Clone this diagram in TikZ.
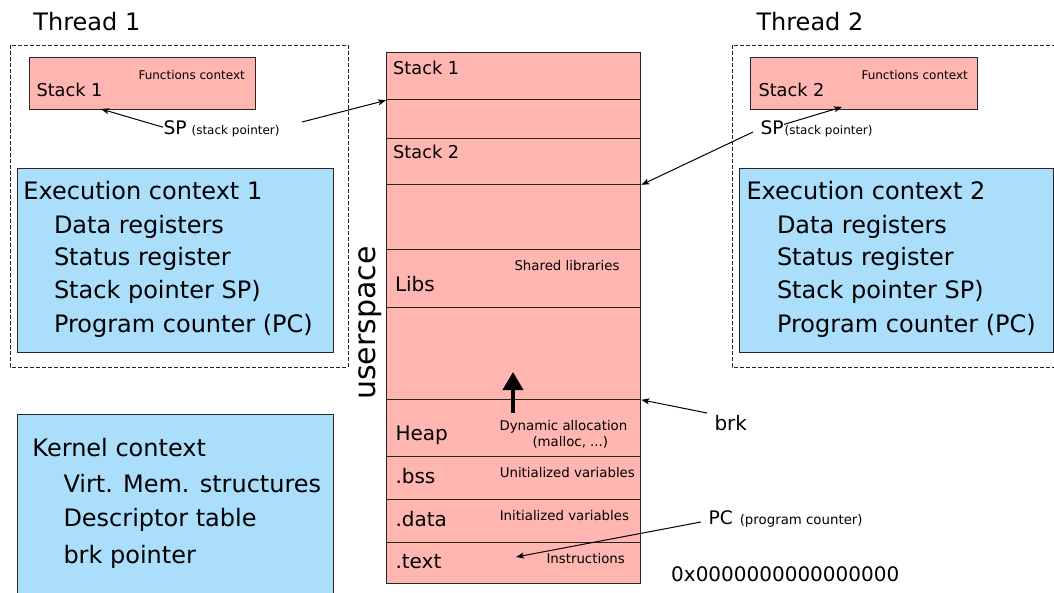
\documentclass[tikz,border=0pt]{standalone}
\usepackage{fontspec}
\setmainfont{DejaVu Sans}
\usepackage{xcolor}
\usetikzlibrary{arrows.meta,positioning}

\definecolor{memred}{RGB}{255,182,177}
\definecolor{ctxblue}{RGB}{170,222,250}

\begin{document}
\begin{tikzpicture}[x=0.75pt,y=-0.75pt,>={Stealth[length=6pt,width=4.5pt,inset=1.5pt]},
    line width=0.75pt,
    every node/.style={inner sep=0pt,anchor=base west},
    big/.style={font=\fontsize{18}{20}\selectfont},
    mid/.style={font=\fontsize{15}{17}\selectfont},
    lbl/.style={font=\fontsize{13.3}{15}\selectfont},
    ptr/.style={font=\fontsize{14}{16}\selectfont},
    note/.style={font=\fontsize{10}{12}\selectfont},
    tiny/.style={font=\fontsize{9}{11}\selectfont},
    pink/.style={draw=black!85,fill=memred,line width=1pt,anchor=north west},
    blue/.style={draw=black!85,fill=ctxblue,line width=1pt,anchor=north west},
    frame/.style={draw=black!85,dash pattern=on 3pt off 1.5pt}]

    \useasboundingbox (0,0) rectangle (1054,593);

% the threads

    \draw[frame] (10,45) rectangle (348,367);
    \draw[frame] (732,45) rectangle (1070,367);

    \node[big] (th1) at (33,30) {Thread 1};
    \node[big] (th2) at (756,30) {Thread 2};

    \node[pink,minimum width=169.5pt,minimum height=39pt] (stk1) at (29,57) {};
    \node[pink,minimum width=170.25pt,minimum height=39pt] (stk2) at (750,57) {};
    \node[lbl] (stk1l) at (36,96.7) {Stack 1};
    \node[tiny] (fc1) at (138,79) {Functions context};
    \node[lbl] (stk2l) at (758,96.7) {Stack 2};
    \node[tiny] (fc2) at (861,79) {Functions context};

    \node[ptr] (sp1) at (163,134) {SP};
    \node[tiny,base right=3pt of sp1] (spn1) {(stack pointer)};
    \node[ptr] (sp2) at (760,134) {SP};
    \node[tiny,base right=0pt of sp2] (spn2) {(stack pointer)};

    \node[blue,minimum width=237pt,minimum height=138pt] (exe1) at (17,168) {};
    \node[blue,minimum width=235.5pt,minimum height=138pt] (exe2) at (739,168) {};
    \foreach \cx/\k in {23/1,746/2}{
      \node[big] (exe\k t) at (\cx,199) {Execution context \k};
      \foreach \t/\y [count=\i] in {Data registers/233,Status register/265,
          Stack pointer SP)/298,Program counter (PC)/332}
        \node[big] (exe\k r\i) at (\cx+30.5,\y) {\t};
    }

% the kernel

    \node[blue,minimum width=237pt,minimum height=142pt] (kern) at (17,414) {};
    \node[big] (kernt) at (32,456.7) {Kernel context};
    \node[big] (kern1) at (63,492.3) {Virt. Mem. structures};
    \node[big] (kern2) at (63,526) {Descriptor table};
    \node[big] (kern3) at (63,563.3) {brk pointer};

% the address space

    \foreach \a/\b [count=\n] in {52/99,99/138,138/183.5,183.5/249,249/306.5,
        306.5/398.5,398.5/455.5,455.5/498.5,498.5/542,542/583}
      \node[pink,minimum width=190.5pt,minimum height={(\b-\a)*0.75pt}] (seg\n) at (386,\a) {};

    \node[rotate=90,anchor=center,font=\fontsize{22.5}{24}\selectfont] (usr) at (370,323) {userspace};

    \node[lbl] (m1) at (392.7,74) {Stack 1};
    \node[lbl] (m2) at (392.7,158) {Stack 2};
    \node[mid] (m3) at (394.5,291.7) {Libs};
    \node[mid] (m4) at (395,440) {Heap};
    \node[mid] (m5) at (395,483.3) {.bss};
    \node[mid] (m6) at (395,526) {.data};
    \node[mid] (m7) at (395,568.3) {.text};

    \node[note] (n3) at (514,270.7) {Shared libraries};
    \node[note] (n4) at (499,430.7) {Dynamic allocation};
    \node[note] (n4b) at (532,446) {(malloc, ...)};
    \node[note] (n5) at (499.3,477.3) {Unitialized variables};
    \node[note] (n6) at (499.3,520.7) {Initialized variables};
    \node[note] (n7) at (546,563.3) {Instructions};

    \coordinate (grow) at (513,413);
    \draw[line width=3pt,-{Triangle[length=13.5pt,width=15pt]}] (grow) -- ++(0,-41);

    \node[mid] (brk) at (714,430) {brk};
    \node[ptr] (pc) at (708,524) {PC};
    \node[note,base right=4.5pt of pc] (pcn) {(program counter)};
    \node[mid] (addr) at (670.7,581.7) {0x0000000000000000};

% pointers

    \coordinate (sp1a) at (302,122);
    \coordinate (sp1b) at (101,109);
    \coordinate (sp2a) at (753,132);
    \coordinate (sp2b) at (842,107);
    \coordinate (brka) at (707,413);
    \coordinate (pca) at (701,522);
    \coordinate (pcb) at (516,557);

    \draw[->] (sp1.west) -- (sp1b);
    \draw[->] (sp1a) -- (seg1.south west);
    \draw[->] (spn2.north west) -- (sp2b);
    \draw[->] (sp2a) -- (seg3.south east);
    \draw[->] (brka) -- (seg6.south east);
    \draw[->] (pca) -- (pcb);

\end{tikzpicture}
\end{document}
